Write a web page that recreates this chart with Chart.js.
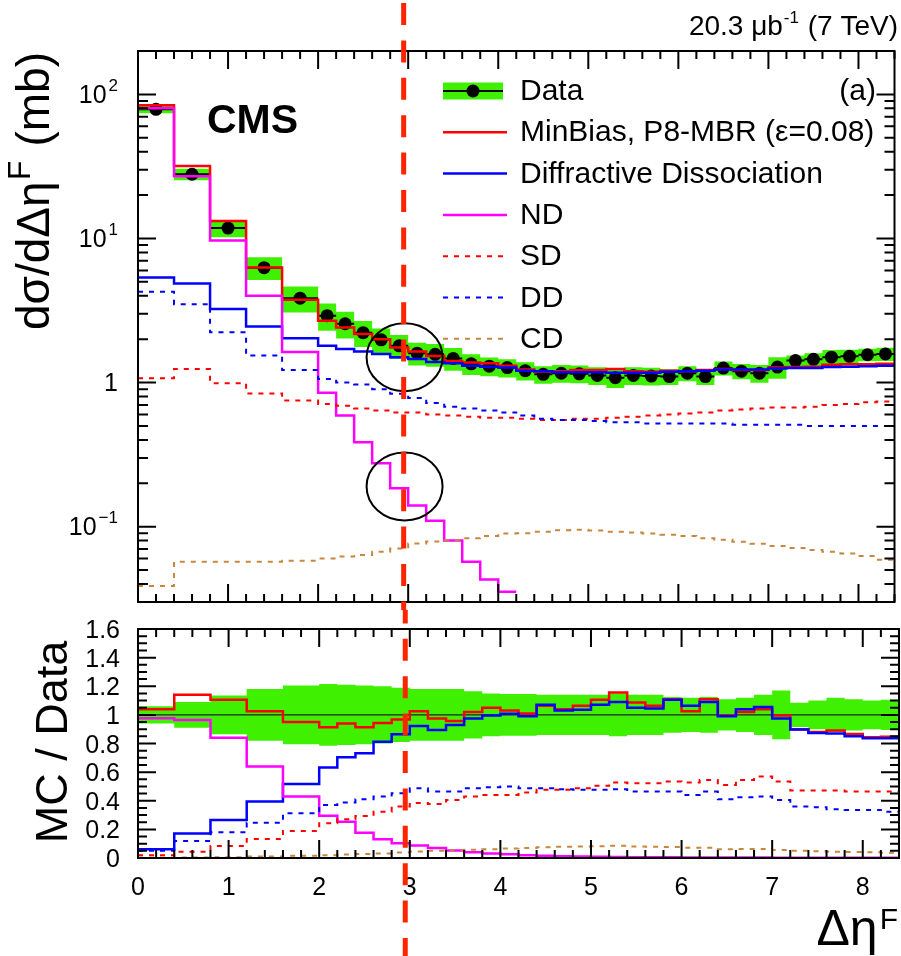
<!DOCTYPE html>
<html>
<head>
<meta charset="utf-8">
<script src="https://cdn.jsdelivr.net/npm/chart.js@4.4.1/dist/chart.umd.min.js"></script>
<style>
body { margin: 0; background: #fff; }
#page { position: relative; width: 901px; height: 956px; }
canvas { position: absolute; left: 0; }
</style>
</head>
<body>
<div id="page">
	<canvas id="upper" width="901" height="610" style="top:0"></canvas>
	<canvas id="lower" width="901" height="346" style="top:610px"></canvas>
</div>
<script>
// bin edges in delta eta F (0.4 wide up to 2, then 0.2 wide)
const binEdges = [0, 0.4, 0.8, 1.2, 1.6, 2.0, 2.2, 2.4, 2.6, 2.8, 3.0, 3.2, 3.4, 3.6, 3.8, 4.0, 4.2,
	4.4, 4.6, 4.8, 5.0, 5.2, 5.4, 5.6, 5.8, 6.0, 6.2, 6.4, 6.6, 6.8, 7.0, 7.2, 7.4, 7.6, 7.8, 8.0, 8.2, 8.4];

// upper panel, d sigma / d delta eta F in mb
const dataValues = [78.7, 27.9, 11.8, 6.27, 3.85, 2.91, 2.56, 2.22, 1.98, 1.80, 1.60, 1.57, 1.47, 1.35, 1.30,
	1.27, 1.21, 1.14, 1.16, 1.15, 1.12, 1.08, 1.12, 1.11, 1.10, 1.16, 1.10, 1.26, 1.20, 1.16, 1.28, 1.42, 1.45,
	1.50, 1.52, 1.56, 1.58];
const dataRelError = [0.06, 0.09, 0.135, 0.18, 0.205, 0.215, 0.21, 0.205, 0.2, 0.19, 0.18, 0.18, 0.18, 0.165,
	0.15, 0.145, 0.145, 0.14, 0.14, 0.14, 0.14, 0.15, 0.14, 0.14, 0.125, 0.12, 0.125, 0.11, 0.12, 0.14, 0.17,
	0.085, 0.1, 0.12, 0.11, 0.1, 0.105];
const minBiasValues = [84, 31.8, 13.2, 6.3, 3.75, 2.69, 2.41, 2.17, 2.0, 1.75, 1.64, 1.53, 1.41, 1.38, 1.36,
	1.31, 1.23, 1.19, 1.2, 1.22, 1.22, 1.24, 1.2, 1.19, 1.21, 1.2, 1.22, 1.24, 1.22, 1.22, 1.27, 1.28, 1.29,
	1.33, 1.34, 1.34, 1.35];
const diffractiveValues = [5.36, 4.87, 3.24, 2.45, 2.03, 1.80, 1.71, 1.64, 1.58, 1.50, 1.46, 1.39, 1.36, 1.31,
	1.29, 1.27, 1.21, 1.2, 1.18, 1.18, 1.18, 1.17, 1.17, 1.17, 1.19, 1.2, 1.21, 1.23, 1.23, 1.23, 1.25, 1.26,
	1.26, 1.28, 1.29, 1.3, 1.31];
const ndValues = [80, 27, 9.7, 4.0, 1.63, 0.85, 0.59, 0.385, 0.275, 0.185, 0.14, 0.11, 0.08, 0.057, 0.043,
	0.0354, null, null, null, null, null, null, null, null, null, null, null, null, null, null, null, null,
	null, null, null, null, null];
const sdValues = [1.07, 1.24, 0.99, 0.84, 0.75, 0.71, 0.69, 0.66, 0.64, 0.62, 0.62, 0.6, 0.59, 0.58, 0.57,
	0.57, 0.56, 0.55, 0.55, 0.56, 0.56, 0.57, 0.58, 0.59, 0.6, 0.61, 0.62, 0.64, 0.65, 0.66, 0.67, 0.67, 0.68,
	0.7, 0.71, 0.73, 0.74];
const ddValues = [4.26, 3.5, 2.23, 1.54, 1.22, 1.06, 1.0, 0.97, 0.9, 0.835, 0.78, 0.72, 0.68, 0.66, 0.64,
	0.62, 0.59, 0.56, 0.55, 0.55, 0.54, 0.53, 0.53, 0.52, 0.52, 0.52, 0.52, 0.52, 0.51, 0.51, 0.51, 0.51, 0.5,
	0.5, 0.5, 0.5, 0.5];
const cdValues = [0.0387, 0.057, 0.057, 0.057, 0.058, 0.06, 0.062, 0.0635, 0.067, 0.0706, 0.0765, 0.079,
	0.0806, 0.083, 0.086, 0.0898, 0.09, 0.092, 0.0946, 0.095, 0.094, 0.092, 0.091, 0.0898, 0.088, 0.086, 0.083,
	0.081, 0.0785, 0.076, 0.0733, 0.071, 0.0688, 0.067, 0.0652, 0.0625, 0.059];

// lower panel, MC / Data
const ratioMinBias = [1.04, 1.14, 1.105, 1.025, 0.95, 0.914, 0.94, 0.914, 0.943, 0.967, 1.025, 0.974, 0.958,
	1.02, 1.05, 1.03, 1.01, 1.063, 1.04, 1.063, 1.105, 1.156, 1.086, 1.063, 1.11, 1.025, 1.11, 0.995, 1.02,
	1.04, 0.995, 0.9, 0.88, 0.89, 0.867, 0.843, 0.848];
const ratioDiffractive = [0.061, 0.172, 0.266, 0.394, 0.517, 0.632, 0.704, 0.732, 0.813, 0.865, 0.923, 0.895,
	0.93, 0.974, 0.995, 1.008, 0.99, 1.07, 1.03, 1.035, 1.07, 1.09, 1.05, 1.045, 1.105, 1.063, 1.09, 0.99, 1.04,
	1.055, 0.974, 0.897, 0.874, 0.87, 0.85, 0.837, 0.837];
const ratioND = [0.977, 0.965, 0.841, 0.639, 0.429, 0.296, 0.254, 0.177, 0.131, 0.103, 0.088, 0.07, 0.052,
	0.041, 0.032, 0.027, 0.02, 0.015, 0.012, 0.01, 0.008, 0.007, 0.006, 0.005, 0.005, 0.004, 0.004, 0.003,
	0.003, 0.003, 0.002, 0.002, 0.002, 0.002, 0.001, 0.001, 0.001];
const ratioSD = [0.02, 0.044, 0.084, 0.133, 0.189, 0.242, 0.27, 0.294, 0.324, 0.359, 0.385, 0.377, 0.406,
	0.43, 0.441, 0.441, 0.457, 0.476, 0.476, 0.487, 0.504, 0.527, 0.522, 0.522, 0.534, 0.527, 0.545, 0.51,
	0.545, 0.569, 0.534, 0.471, 0.471, 0.471, 0.464, 0.464, 0.464];
const ratioDD = [0.05, 0.119, 0.18, 0.247, 0.312, 0.371, 0.387, 0.41, 0.429, 0.452, 0.487, 0.464, 0.464,
	0.487, 0.494, 0.5, 0.487, 0.487, 0.48, 0.476, 0.476, 0.48, 0.464, 0.464, 0.464, 0.441, 0.464, 0.41, 0.424,
	0.43, 0.406, 0.359, 0.355, 0.34, 0.336, 0.336, 0.324];
const ratioCD = [0.002, 0.004, 0.006, 0.01, 0.015, 0.02, 0.024, 0.028, 0.032, 0.038, 0.045, 0.05, 0.054,
	0.058, 0.062, 0.066, 0.07, 0.075, 0.078, 0.08, 0.082, 0.085, 0.08, 0.078, 0.076, 0.072, 0.072, 0.062,
	0.063, 0.063, 0.056, 0.05, 0.048, 0.044, 0.042, 0.04, 0.037];

const xTickLabels = ["0", "1", "2", "3", "4", "5", "6", "7", "8"];
const ratioTickLabels = ["0", "0.2", "0.4", "0.6", "0.8", "1", "1.2", "1.4", "1.6"];
const logTickLabels = [[2, "10", "2"], [1, "10", "1"], [0, "1", ""], [-1, "10", "\u22121"]];

// annotations: dashed marker at 2.95 and two circles
const markerX = 2.95;
const circleSpots = [[2.96, 1.5], [2.96, 0.19]];

const FONT = "'Liberation Sans', Arial, Helvetica, sans-serif";
const GREEN = "#3ff000";
const RED = "#ff0000";
const BLUE = "#0000ff";
const MAGENTA = "#ff00ff";
const BROWN = "#c8873f";
const SHORT_DASH = [5, 6];

function histPoints(values) {
	const points = [];
	values.forEach((v, i) => {
		if (v === null) {
			points.push({ x: binEdges[i], y: null });
			return;
		}
		points.push({ x: binEdges[i], y: v }, { x: binEdges[i + 1], y: v });
	});
	return points;
}

function barPoints(values) {
	const points = [];
	values.forEach((v, i) => {
		points.push({ x: binEdges[i], y: v }, { x: binEdges[i + 1], y: v }, { x: binEdges[i + 1], y: null });
	});
	return points;
}

function centerPoints(values) {
	return values.map((v, i) => ({ x: (binEdges[i] + binEdges[i + 1]) / 2, y: v }));
}

function histLine(values, color, dash, order) {
	return {
		data: histPoints(values),
		borderColor: color,
		borderWidth: dash ? 2 : 2.5,
		borderDash: dash || [],
		pointRadius: 0,
		fill: false,
		order: order,
		clip: 2
	};
}

function bandDatasets(upper, lower) {
	return [
		{ data: histPoints(upper), borderWidth: 0, pointRadius: 0, fill: false, order: 20 },
		{ data: histPoints(lower), borderWidth: 0, pointRadius: 0, fill: "-1", backgroundColor: GREEN, order: 19 }
	];
}

function drawFrame(ctx, area, xs, yTicks) {
	ctx.strokeStyle = "#000";
	ctx.lineWidth = 2;
	ctx.setLineDash([]);
	ctx.strokeRect(area.left, area.top, area.right - area.left, area.bottom - area.top);
	ctx.beginPath();
	for (let i = 0; i <= 42; i++) {
		const x = xs.getPixelForValue(i * 0.2);
		const len = i % 5 === 0 ? 18 : 8;
		ctx.moveTo(x, area.bottom);
		ctx.lineTo(x, area.bottom - len);
		ctx.moveTo(x, area.top);
		ctx.lineTo(x, area.top + len);
	}
	yTicks.forEach(t => {
		ctx.moveTo(area.left, t.y);
		ctx.lineTo(area.left + t.len, t.y);
		ctx.moveTo(area.right, t.y);
		ctx.lineTo(area.right - t.len, t.y);
	});
	ctx.stroke();
}

function drawMarker(chart, startY) {
	const ctx = chart.ctx;
	const x = chart.scales.x.getPixelForValue(markerX);
	ctx.save();
	ctx.strokeStyle = "#ff2400";
	ctx.lineWidth = 5;
	ctx.setLineDash([22, 15.4]);
	ctx.beginPath();
	ctx.moveTo(x, startY);
	ctx.lineTo(x, chart.height);
	ctx.stroke();
	ctx.restore();
}

function drawPower(ctx, base, exp, right, baseline, size, supSize, raise) {
	ctx.font = size + "px " + FONT;
	const w1 = ctx.measureText(base).width;
	ctx.font = supSize + "px " + FONT;
	const w2 = exp ? ctx.measureText(exp).width + 2 : 0;
	const x = right - w1 - w2;
	ctx.textAlign = "left";
	ctx.font = size + "px " + FONT;
	ctx.fillText(base, x, baseline);
	if (exp) {
		ctx.font = supSize + "px " + FONT;
		ctx.fillText(exp, x + w1 + 2, baseline - raise);
	}
}

const legendRows = [
	{ label: "Data", kind: "data" },
	{ label: "MinBias, P8-MBR (\u03b5=0.08)", color: RED },
	{ label: "Diffractive Dissociation", color: BLUE },
	{ label: "ND", color: MAGENTA },
	{ label: "SD", color: RED, dash: SHORT_DASH },
	{ label: "DD", color: BLUE, dash: SHORT_DASH },
	{ label: "CD", color: BROWN, dash: SHORT_DASH }
];

const upperDecor = {
	id: "upperDecor",
	afterDatasetsDraw(chart) {
		const ctx = chart.ctx;
		const area = chart.chartArea;
		const xs = chart.scales.x;
		const ys = chart.scales.y;
		ctx.save();
		const yTicks = [];
		for (let e = -2; e <= 2; e++) {
			for (let m = 1; m <= 9; m++) {
				const v = m * Math.pow(10, e);
				if (v < ys.min || v > ys.max) continue;
				yTicks.push({ y: ys.getPixelForValue(v), len: m === 1 ? 18 : 10 });
			}
		}
		drawFrame(ctx, area, xs, yTicks);

		ctx.fillStyle = "#000";
		ctx.textBaseline = "alphabetic";
		logTickLabels.forEach(([e, base, exp]) => {
			const y = ys.getPixelForValue(Math.pow(10, e));
			drawPower(ctx, base, exp, 118, y + 8.5, 25, 17, 12);
		});

		// legend
		legendRows.forEach((row, k) => {
			const cy = 91 + k * 41.3;
			ctx.setLineDash([]);
			if (row.kind === "data") {
				ctx.fillStyle = GREEN;
				ctx.fillRect(443, cy - 8.5, 60, 17);
				ctx.strokeStyle = "#000";
				ctx.lineWidth = 2;
				ctx.beginPath();
				ctx.moveTo(443, cy);
				ctx.lineTo(503, cy);
				ctx.stroke();
				ctx.fillStyle = "#000";
				ctx.beginPath();
				ctx.arc(473, cy, 6.5, 0, Math.PI * 2);
				ctx.fill();
			} else {
				ctx.strokeStyle = row.color;
				ctx.lineWidth = row.dash ? 2 : 2.5;
				ctx.setLineDash(row.dash || []);
				ctx.beginPath();
				ctx.moveTo(443, cy);
				ctx.lineTo(507, cy);
				ctx.stroke();
			}
			ctx.setLineDash([]);
			ctx.fillStyle = "#000";
			ctx.font = "30px " + FONT;
			ctx.textAlign = "left";
			ctx.fillText(row.label, 520, cy + 9);
		});
		ctx.textAlign = "right";
		ctx.font = "30px " + FONT;
		ctx.fillText("(a)", 876, 100);

		ctx.textAlign = "left";
		ctx.font = "bold 41px " + FONT;
		ctx.fillText("CMS", 207, 133);

		// luminosity label
		ctx.font = "28px " + FONT;
		const tail = " (7 TeV)";
		const wTail = ctx.measureText(tail).width;
		ctx.font = "17px " + FONT;
		const wSup = ctx.measureText("-1").width + 2;
		ctx.font = "28px " + FONT;
		const head = "20.3 \u03bcb";
		const wHead = ctx.measureText(head).width;
		let lx = 898 - wTail - wSup - wHead;
		ctx.fillText(head, lx, 35);
		ctx.font = "17px " + FONT;
		ctx.fillText("-1", lx + wHead + 1, 23);
		ctx.font = "28px " + FONT;
		ctx.fillText(tail, lx + wHead + wSup, 35);

		// y title, rotated
		const size = 40;
		const partA = "d\u03c3/d\u0394\u03b7";
		const partB = " (mb)";
		ctx.font = size + "px " + FONT;
		const wA = ctx.measureText(partA).width;
		const wB = ctx.measureText(partB).width;
		ctx.font = Math.round(size * 0.7) + "px " + FONT;
		const wF = ctx.measureText("F").width + 2;
		const scale = 278 / (wA + wB + wF);
		ctx.translate(49, 330);
		ctx.rotate(-Math.PI / 2);
		ctx.font = (size * scale) + "px " + FONT;
		ctx.fillText(partA, 0, 0);
		ctx.font = (size * 0.7 * scale) + "px " + FONT;
		ctx.fillText("F", wA * scale + 1, -size * 0.42 * scale);
		ctx.font = (size * scale) + "px " + FONT;
		ctx.fillText(partB, (wA + wF) * scale, 0);
		ctx.setTransform(1, 0, 0, 1, 0, 0);

		// circles around the marker
		ctx.strokeStyle = "#000";
		ctx.lineWidth = 2;
		circleSpots.forEach(([vx, vy]) => {
			ctx.beginPath();
			ctx.ellipse(xs.getPixelForValue(vx), ys.getPixelForValue(vy), 38, 34, 0, 0, Math.PI * 2);
			ctx.stroke();
		});
		ctx.restore();
		drawMarker(chart, 3);
	}
};

const lowerDecor = {
	id: "lowerDecor",
	afterDatasetsDraw(chart) {
		const ctx = chart.ctx;
		const area = chart.chartArea;
		const xs = chart.scales.x;
		const ys = chart.scales.y;
		ctx.save();
		const yTicks = [];
		for (let i = 0; i <= 32; i++) {
			yTicks.push({ y: ys.getPixelForValue(i * 0.05), len: i % 4 === 0 ? 18 : 9 });
		}
		drawFrame(ctx, area, xs, yTicks);

		ctx.fillStyle = "#000";
		ctx.font = "25px " + FONT;
		ctx.textAlign = "right";
		ctratioLabels(ctx, ys);
		ctx.textAlign = "center";
		xTickLabels.forEach(t => {
			ctx.fillText(t, xs.getPixelForValue(Number(t)), 285);
		});

		// x title
		ctx.font = "50px " + FONT;
		const main = "\u0394\u03b7";
		const wMain = ctx.measureText(main).width;
		ctx.font = "30px " + FONT;
		const wF = ctx.measureText("F").width;
		ctx.textAlign = "left";
		ctx.font = "50px " + FONT;
		ctx.fillText(main, 898 - wF - 2 - wMain, 335);
		ctx.font = "30px " + FONT;
		ctx.fillText("F", 898 - wF, 319);

		// y title
		ctx.translate(67, 132);
		ctx.rotate(-Math.PI / 2);
		ctx.font = "45px " + FONT;
		ctx.textAlign = "center";
		ctx.fillText("MC / Data", 0, 0);
		ctx.setTransform(1, 0, 0, 1, 0, 0);
		ctx.restore();
		drawMarker(chart, 3 - 610);
	}
};

function ctratioLabels(ctx, ys) {
	ratioTickLabels.forEach(t => {
		ctx.fillText(t, 120, ys.getPixelForValue(Number(t)) + 9);
	});
}

function baseOptions(yScale, padding) {
	return {
		responsive: false,
		animation: false,
		devicePixelRatio: 1,
		events: [],
		layout: { padding: padding },
		plugins: { legend: { display: false }, tooltip: { enabled: false } },
		elements: { line: { tension: 0, borderCapStyle: "butt" } },
		scales: {
			x: { type: "linear", min: 0, max: 8.4, display: false },
			y: yScale
		}
	};
}

function drawUpper() {
	const upperBand = dataValues.map((v, i) => v * (1 + dataRelError[i]));
	const lowerBand = dataValues.map((v, i) => v * (1 - dataRelError[i]));
	const datasets = bandDatasets(upperBand, lowerBand).concat([
		{ data: barPoints(dataValues), borderColor: "#000", borderWidth: 2, pointRadius: 0, fill: false, order: 18, clip: 2 },
		{ data: centerPoints(dataValues), showLine: false, pointRadius: 6.5, pointBackgroundColor: "#000", pointBorderWidth: 0, order: 17 },
		histLine(minBiasValues, RED, null, 6),
		histLine(diffractiveValues, BLUE, null, 5),
		histLine(ndValues, MAGENTA, null, 4),
		histLine(sdValues, RED, SHORT_DASH, 3),
		histLine(ddValues, BLUE, SHORT_DASH, 2),
		histLine(cdValues, BROWN, SHORT_DASH, 1)
	]);
	const context = document.getElementById("upper").getContext("2d");
	new Chart(context, {
		type: "line",
		data: { datasets: datasets },
		options: baseOptions(
			{ type: "logarithmic", min: 0.03, max: 200, display: false },
			{ left: 138, right: 2, top: 51, bottom: 8 }
		),
		plugins: [upperDecor]
	});
}

function drawLower() {
	const upperBand = dataRelError.map(e => 1 + e);
	const lowerBand = dataRelError.map(e => 1 - e);
	const datasets = bandDatasets(upperBand, lowerBand).concat([
		{ data: [{ x: 0, y: 1 }, { x: 8.4, y: 1 }], borderColor: "#222", borderWidth: 1.2, pointRadius: 0, fill: false, order: 18 },
		histLine(ratioMinBias, RED, null, 6),
		histLine(ratioDiffractive, BLUE, null, 5),
		histLine(ratioND, MAGENTA, null, 4),
		histLine(ratioSD, RED, SHORT_DASH, 3),
		histLine(ratioDD, BLUE, SHORT_DASH, 2),
		histLine(ratioCD, BROWN, SHORT_DASH, 1)
	]);
	const context = document.getElementById("lower").getContext("2d");
	new Chart(context, {
		type: "line",
		data: { datasets: datasets },
		options: baseOptions(
			{ type: "linear", min: 0, max: 1.6, display: false },
			{ left: 138, right: 2, top: 19, bottom: 98 }
		),
		plugins: [lowerDecor]
	});
}

document.addEventListener("DOMContentLoaded", _ => {
	drawUpper();
	drawLower();
});
</script>
</body>
</html>
